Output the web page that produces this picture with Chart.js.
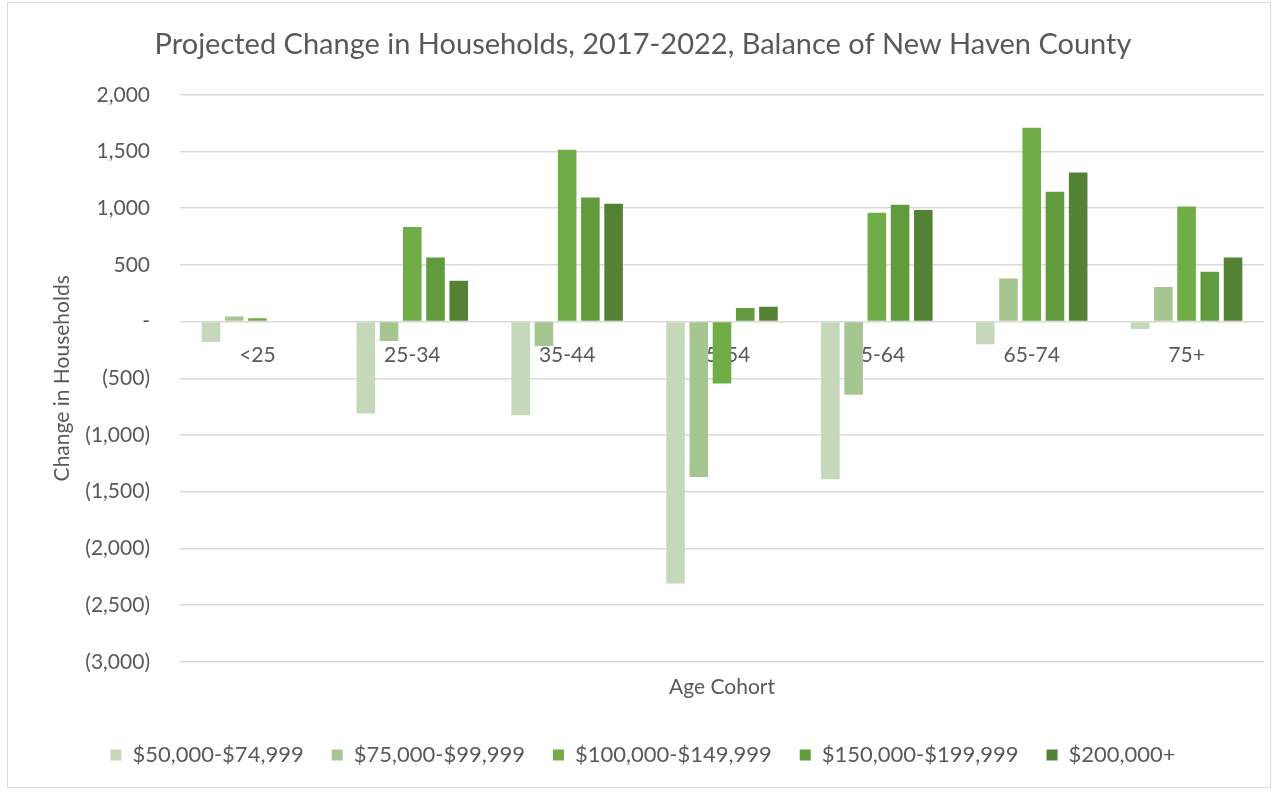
<!DOCTYPE html>
<html>
<head>
<meta charset="utf-8">
<script src="https://cdn.jsdelivr.net/npm/chart.js@4.4.1/dist/chart.umd.min.js"></script>
<style>
    html, body { margin: 0; padding: 0; background: #fff; }
    #wrap {
        position: absolute; left: 7px; top: 2px;
        width: 1264px; height: 786px;
        border: 1px solid #D9D9D9; box-sizing: border-box;
    }
    canvas { display: block; }
</style>
</head>
<body>
<div id="wrap"><canvas id="chart" width="1262" height="784"></canvas></div>
<script>
const cohorts = ['<25', '25-34', '35-44', '45-54', '55-64', '65-74', '75+']

const income50  = [-180, -810, -825, -2310, -1390, -200, -65]
const income75  = [45, -170, -215, -1370, -645, 380, 305]
const income100 = [30, 835, 1515, -545, 960, 1710, 1015]
const income150 = [0, 565, 1095, 120, 1030, 1145, 440]
const income200 = [0, 360, 1040, 130, 985, 1315, 565]

const seriesNames = ['$50,000-$74,999', '$75,000-$99,999', '$100,000-$149,999', '$150,000-$199,999', '$200,000+']
const seriesColors = ['#C5D9BA', '#A5C690', '#70AD47', '#629B3E', '#548235']

const FONT = 'Lato'
const GREY = '#595959'

// accounting style: negatives in brackets, zero as a dash
function fmt(v) {
    if (v === 0) return '-'
    const s = Math.abs(v).toLocaleString('en-US')
    return v < 0 ? '(' + s + ')' : s
}

const values = [income50, income75, income100, income150, income200]

new Chart('chart', {
    type: 'bar',
    data: {
        labels: cohorts,
        datasets: values.map((d, i) => ({
            label: seriesNames[i],
            data: d,
            backgroundColor: seriesColors[i],
            categoryPercentage: 0.75,
            barPercentage: 0.8
        }))
    },
    options: {
        responsive: false,
        animation: false,
        layout: { padding: { left: 14, right: 6, top: 4, bottom: 11 } },
        plugins: {
            title: {
                display: true,
                text: 'Projected Change in Households, 2017-2022, Balance of New Haven County',
                color: GREY,
                font: { family: FONT, size: 29, weight: 'normal' },
                padding: { top: 20, bottom: 33 }
            },
            legend: {
                position: 'bottom',
                labels: {
                    color: GREY,
                    font: { family: FONT, size: 22 },
                    boxWidth: 11,
                    boxHeight: 11,
                    padding: 28
                }
            },
            tooltip: { enabled: false }
        },
        scales: {
            // category labels sit just under the zero line
            x: {
                position: { y: 0 },
                grid: { display: false },
                border: { display: false },
                ticks: { color: GREY, font: { family: FONT, size: 21 }, padding: 13, maxRotation: 0 }
            },
            // bottom axis only carries the title
            x2: {
                type: 'category',
                position: 'bottom',
                grid: { display: false },
                border: { display: false },
                ticks: { display: false },
                title: {
                    display: true,
                    text: 'Age Cohort',
                    color: GREY,
                    font: { family: FONT, size: 21 },
                    padding: { top: 5, bottom: 16 }
                }
            },
            y: {
                min: -3000,
                max: 2000,
                afterFit: s => { s.width = 158 },
                ticks: {
                    stepSize: 500,
                    color: GREY,
                    font: { family: FONT, size: 21 },
                    padding: 30,
                    callback: v => fmt(v)
                },
                grid: { color: '#D9D9D9', lineWidth: 1.5, drawTicks: false },
                border: { display: false },
                title: {
                    display: true,
                    text: 'Change in Households',
                    color: GREY,
                    font: { family: FONT, size: 21 },
                    padding: { top: 28, bottom: 0 }
                }
            }
        }
    }
})
</script>
</body>
</html>
